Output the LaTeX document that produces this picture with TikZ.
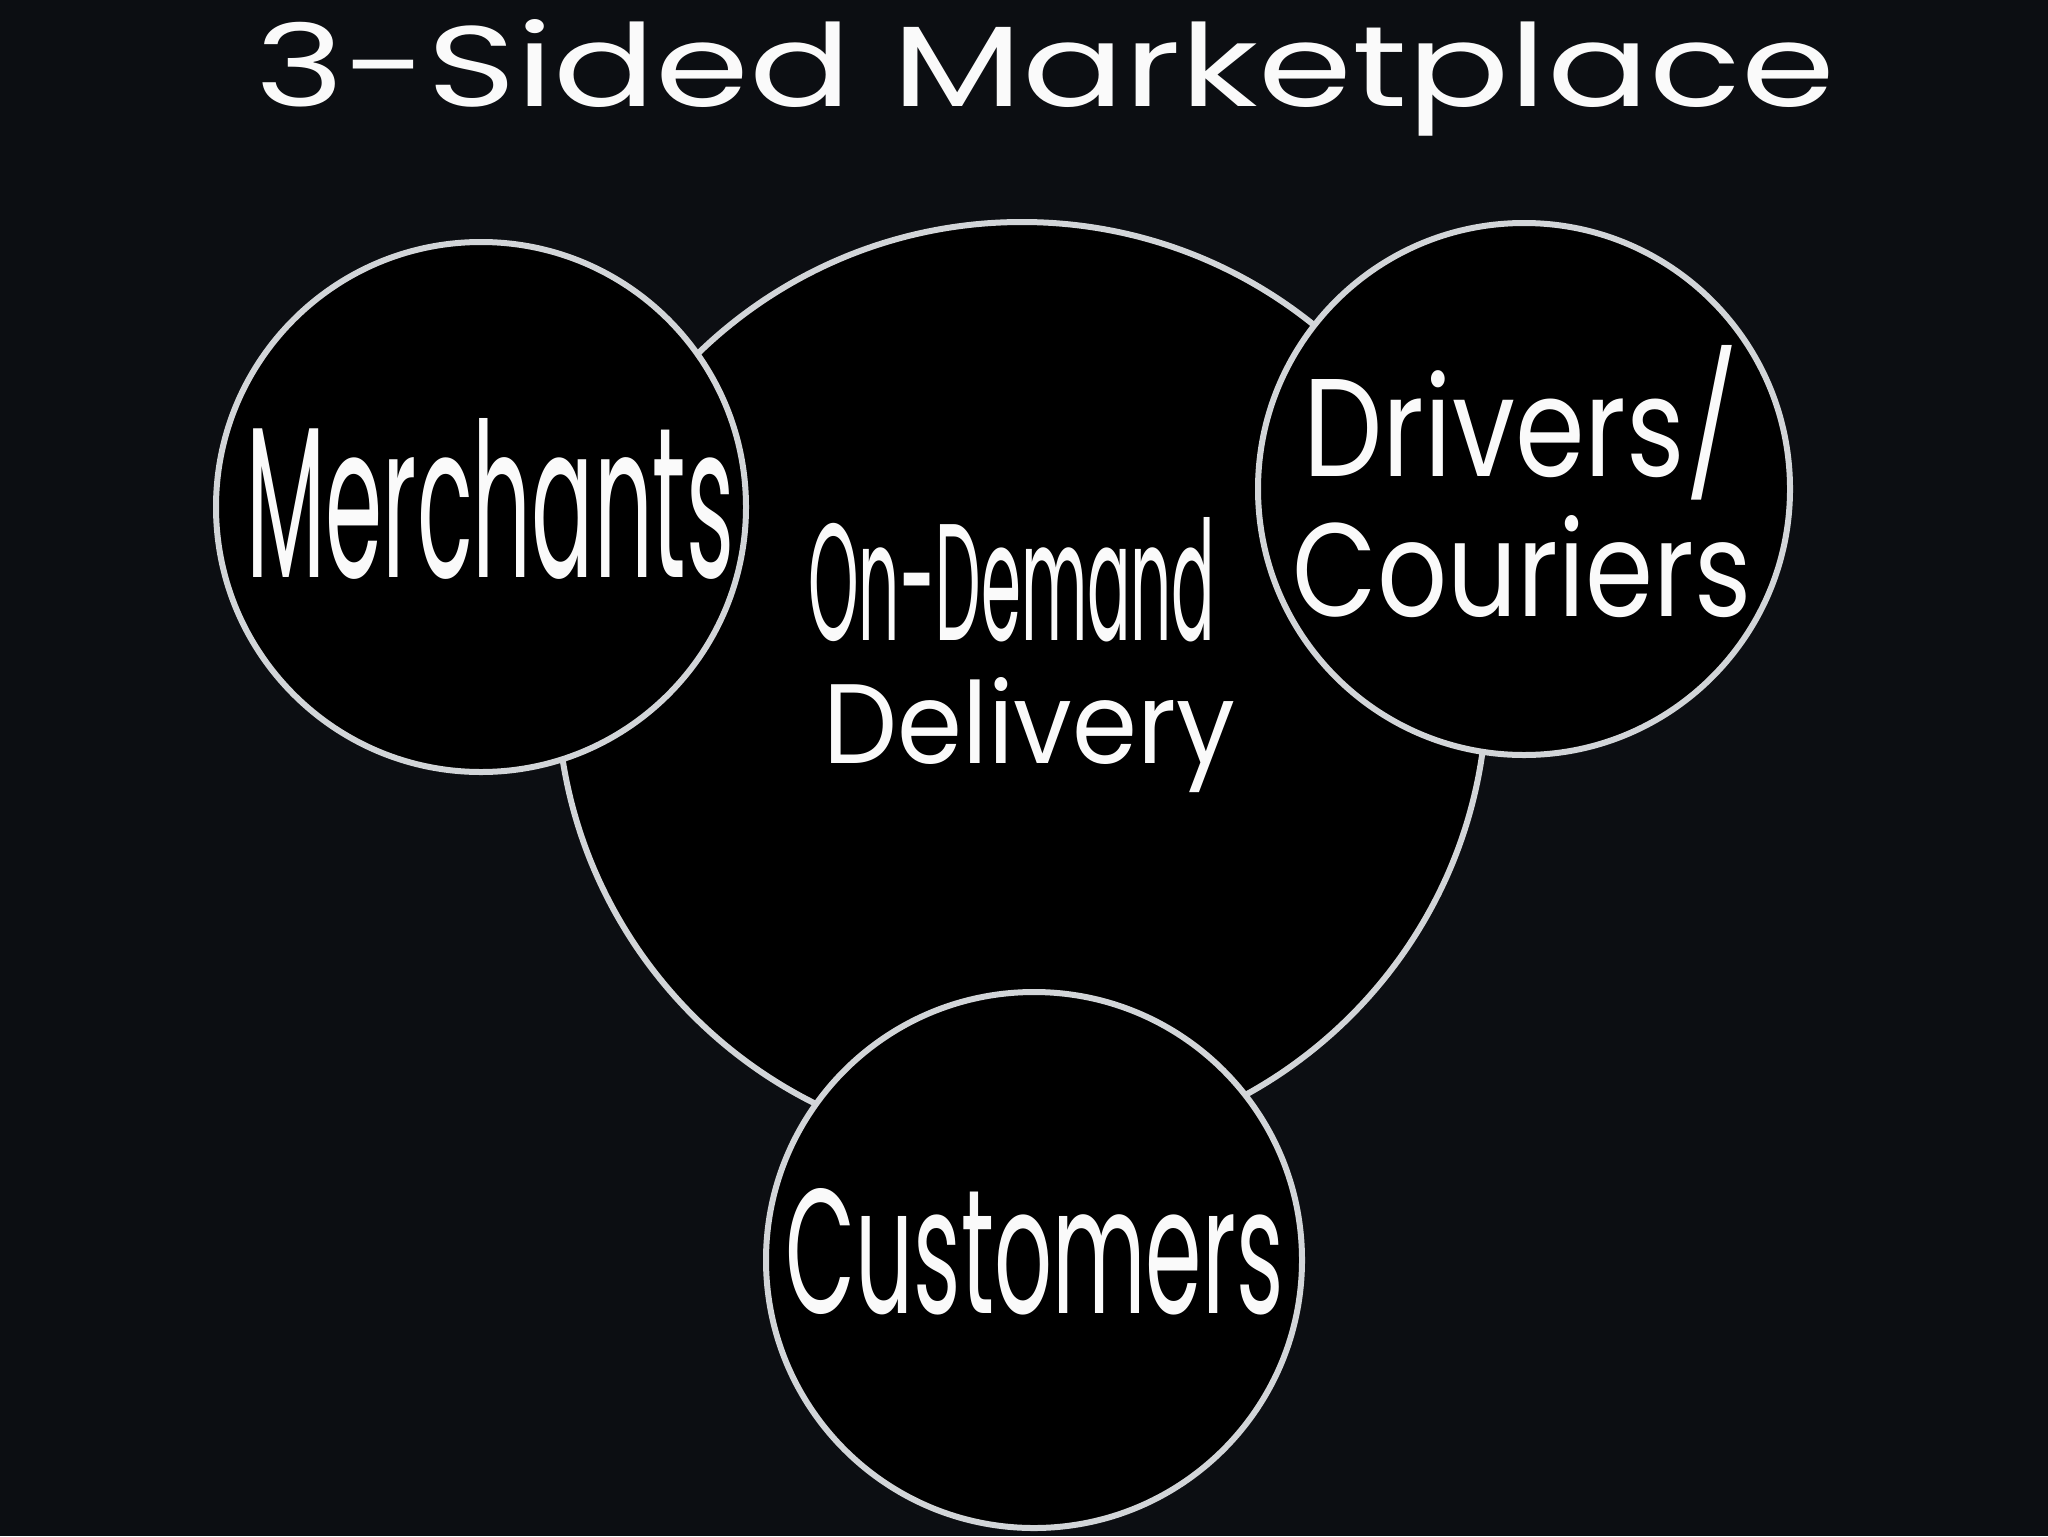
\documentclass[tikz,border=0pt]{standalone}
\usepackage{fontspec}
\setmainfont{Poppins}
\usepackage{graphicx}
\definecolor{bg}{HTML}{0C0E12}
\definecolor{ring}{HTML}{D2D5D8}
\definecolor{ink}{HTML}{FAFAFA}
\begin{document}
\begin{tikzpicture}[x=0.5pt,y=-0.5pt,
  disc/.style={circle, draw=ring, line width=3pt, fill=black, inner sep=0pt},
  lbl/.style={inner sep=0pt, text=ink, anchor=base west}]
\fill[bg] (0,0) rectangle (2048,1536);
\useasboundingbox (0,0) rectangle (2048,1536);
\node[disc, minimum size=465pt] (hub) at (1022,687) {};
\node[disc, minimum size=265pt] (merch) at (481,507) {};
\node[disc, minimum size=266pt] (drv) at (1524,489) {};
\node[disc, minimum size=268pt] (cust) at (1034,1260) {};
\node[lbl] (title) at (255,107) {\resizebox{789.5pt}{43.5pt}{3-Sided Marketplace}};
\node[lbl] (tmerch) at (246,577) {\resizebox{244pt}{79.5pt}{Merchants}};
\node[lbl] (thub1) at (808,640) {\resizebox{203.5pt}{61.5pt}{On-Demand}};
\node[lbl] (thub2) at (823,763) {\resizebox{206pt}{43pt}{Delivery}};
\node[lbl] (tdrv1) at (1303,476) {\resizebox{217.5pt}{65.5pt}{Drivers/}};
\node[lbl] (tdrv2) at (1292,616) {\resizebox{229.5pt}{50.5pt}{Couriers}};
\node[lbl] (tcust) at (785,1313) {\resizebox{249pt}{62.5pt}{Customers}};
\end{tikzpicture}
\end{document}
